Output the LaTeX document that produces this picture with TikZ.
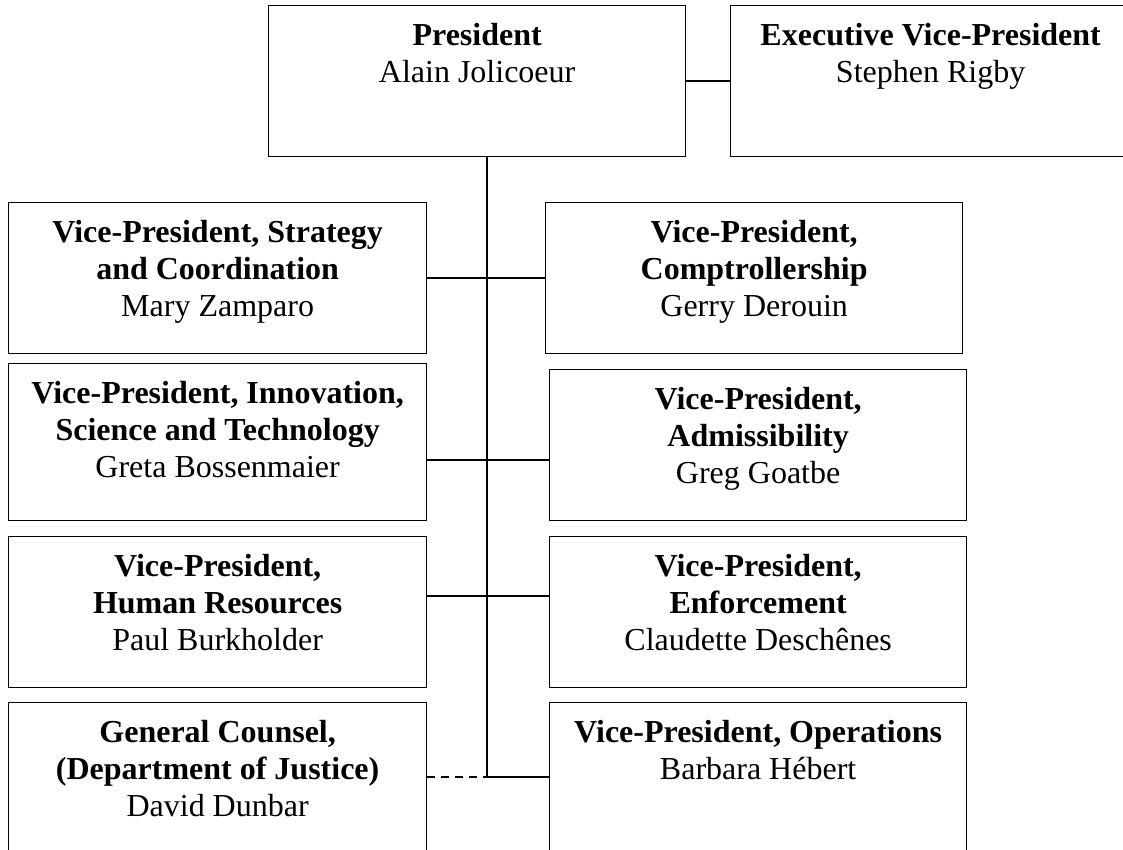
\documentclass[tikz,border=0pt]{standalone}
\usepackage{fontspec}
\setmainfont{Liberation Serif}
\usepackage{tikz}

% box text: title in bold, name below, set from the top of the box
\newcommand{\post}[4]{\parbox[c][#2pt][t]{#1pt}{\centering\rule{0pt}{40pt}\textbf{#3}\\#4}}

\begin{document}
\begin{tikzpicture}[x=1pt, y=-1pt]
	\tikzstyle{Post}	= [draw, rectangle, line width=1.3pt, anchor=north west, inner sep=0pt, font=\fontsize{32}{36.8}\selectfont]
	\tikzstyle{Link}	= [line width=1.3pt]
	\tikzstyle{Advice}	= [Link, dash pattern=on 8pt off 6pt]

	\useasboundingbox (0,0) rectangle (1123,850);

	\foreach \n/\x/\y/\w/\h/\ttl/\who in {
			pres/268/5/417/151/{President}/{Alain Jolicoeur},
			exec/730/5/400/151/{Executive Vice-President}/{Stephen Rigby},
			strat/8/202/418/151/{Vice-President, Strategy\\and Coordination}/{Mary Zamparo},
			compt/545/202/417/151/{Vice-President,\\Comptrollership}/{Gerry Derouin},
			innov/8/363/418/157/{Vice-President, Innovation,\\Science and Technology}/{Greta Bossenmaier},
			admis/549/369/417/151/{Vice-President,\\Admissibility}/{Greg Goatbe},
			hr/8/536/418/151/{Vice-President,\\Human Resources}/{Paul Burkholder},
			enfor/549/536/417/151/{Vice-President,\\Enforcement}/{Claudette Deschênes},
			gc/8/702/418/170/{General Counsel,\\(Department of Justice)}/{David Dunbar},
			oper/549/702/417/170/{Vice-President, Operations}/{Barbara Hébert}}
		\node (\n) at (\x, \y) [Post] {\post{\w}{\h}{\ttl}{\who}};

	% junctions on the spine
	\foreach \j/\y in {a/278, b/460, c/596, d/777}
		\coordinate (j\j) at (487, \y);

	\draw [Link] (pres.east) to (exec.west);
	\draw [Link] (pres.south -| jd) to (jd);
	\foreach \lt/\rt/\j in {strat/compt/a, innov/admis/b, hr/enfor/c}
		\draw [Link] (\lt.east |- j\j) to (\rt.west |- j\j);
	\draw [Advice] (gc.east |- jd) to (jd);
	\draw [Link] (jd) to (oper.west |- jd);
\end{tikzpicture}
\end{document}
